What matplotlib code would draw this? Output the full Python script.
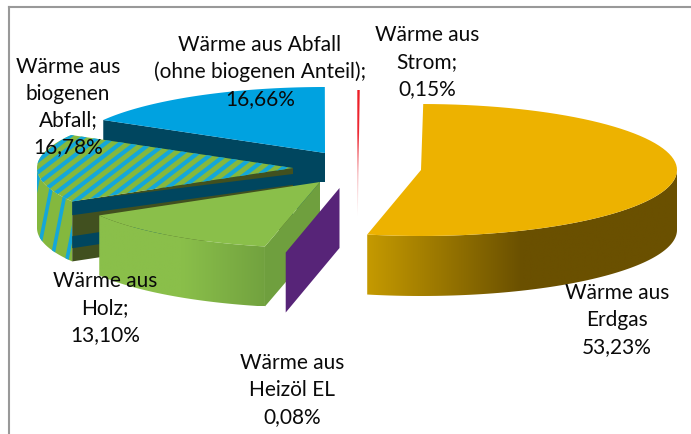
import numpy as np
import matplotlib
matplotlib.use("Agg")
import matplotlib.pyplot as plt
from matplotlib.patches import Polygon
from matplotlib.colors import LinearSegmentedColormap

names = ["Wärme aus\nErdgas", "Wärme aus\nHeizöl EL", "Wärme aus\nHolz;",
         "Wärme aus\nbiogenen\nAbfall;", "Wärme aus Abfall\n(ohne biogenen Anteil);",
         "Wärme aus\nStrom;"]
shares = [53.23, 0.08, 13.10, 16.78, 16.66, 0.15]
values = ["53,23%", "0,08%", "13,10%", "16,78%", "16,66%", "0,15%"]

# where each exploded slice sits, in pixels of the picture
centres = [(421, 171), (339.5, 189), (320, 183), (293, 169), (325, 154), (357.5, 157)]
label_xy = [(617, 320), (292, 390), (105, 308), (68, 107), (260, 72), (427, 62)]

RX, RY, DEPTH = 256, 66, 60
START = 0.5

plt.rcParams['font.family'] = ['Lato', 'DejaVu Sans']

fig = plt.figure(figsize=(6.91, 4.35), dpi=100)
ax = fig.add_axes([0, 0, 1, 1])


def rim(c, a0, a1, n=80):
    t = np.radians(np.linspace(a0, a1, n))
    return np.column_stack([c[0] + RX*np.sin(t), c[1] - RY*np.cos(t)])


def down(pts, d=DEPTH):
    return pts + np.array([0, d])


def top_poly(c, a0, a1):
    return np.vstack([[c], rim(c, a0, a1)])


def side_poly(c, a0, a1):
    r = rim(c, a0, a1)
    return np.vstack([r, down(r)[::-1]])


def cut_poly(c, a, f0=0.0, f1=1.0, f0_in=None, f1_in=None):
    # f0/f1 at the outer end, f0_in/f1_in at the centre end
    e = rim(c, a, a, 1)[0]
    f0_in = f0 if f0_in is None else f0_in
    f1_in = f1 if f1_in is None else f1_in
    return np.array([[c[0], c[1]+f0_in*DEPTH], [e[0], e[1]+f0*DEPTH],
                     [e[0], e[1]+f1*DEPTH], [c[0], c[1]+f1_in*DEPTH]])


def shape(pts, color, z):
    p = Polygon(pts, closed=True, fc=color, ec='none', zorder=z)
    ax.add_patch(p)
    return p


def gradient(pts, stops, z, vertical=False):
    # gradient fill: an image clipped to the polygon
    p = Polygon(pts, closed=True, fc='none', ec='none', zorder=z)
    ax.add_patch(p)
    x0, y0 = pts.min(axis=0)
    x1, y1 = pts.max(axis=0)
    g = np.linspace(0, 1, 256).reshape(-1, 1) if vertical else np.linspace(0, 1, 256).reshape(1, -1)
    cmap = LinearSegmentedColormap.from_list('g', stops)
    im = ax.imshow(g, cmap=cmap, extent=[x0, x1, y1, y0], aspect='auto', zorder=z,
                   interpolation='bilinear', origin='upper')
    im.set_clip_path(p)


def stripes(patch, x0, x1, y0, y1, slant, step, z, lw):
    for x in np.arange(x0, x1, step):
        ln, = ax.plot([x, x + slant*(y1-y0)], [y1, y0], color=BLUE_S, lw=lw,
                      zorder=z, solid_capstyle='butt')
        ln.set_clip_path(patch)


BLUE_S = '#14a7d8'
GREEN_S = '#84b83e'
DARK = '#00465f'
OLIVE = '#41501f'

edges = START + np.concatenate([[0], np.cumsum(shares)])*3.6
a = list(zip(edges[:-1], edges[1:]))

# Abfall (back slice), its cut face stops at the Holz slice on the right
c = centres[4]
h = centres[2]
e = rim(c, a[4][0], a[4][0], 1)[0]
shape(np.array([c, e, [e[0], e[1]+DEPTH], [h[0], c[1]+DEPTH], [h[0], h[1]], [c[0], h[1]]]), DARK, 1)
shape(top_poly(c, *a[4]), '#00a2e0', 2)

# biogener Abfall
c = centres[3]
side = shape(side_poly(c, a[3][0], 270), GREEN_S, 3)
stripes(side, -40, 120, 130, 270, 0.2, 15, 3.1, 2.6)
shape(cut_poly(c, a[3][0]), OLIVE, 3.2)
shape(cut_poly(c, a[3][0], 0.0, 0.23, 0.1, 0.28), DARK, 3.3)
shape(cut_poly(c, a[3][0], 0.58, 0.78), DARK, 3.3)
tp = shape(top_poly(c, *a[3]), GREEN_S, 4)
stripes(tp, -100, 400, 120, 210, 1.3, 15, 4.1, 3.0)

# Holz
c = centres[2]
shape(cut_poly(c, a[2][0]), '#6f9f3e', 5)
gradient(side_poly(c, a[2][0], a[2][1]), ['#8abf4a', '#8abf4a', '#72a23f'], 5.1)
shape(top_poly(c, *a[2]), '#8abf4a', 6)

# Heizöl EL
shape(cut_poly(centres[1], a[1][0]), '#572478', 7)

# Strom
c = centres[5]
r = rim(c, *a[5], 5)
gradient(np.vstack([r, [[c[0]+0.3, c[1]+DEPTH], [c[0]-0.3, c[1]+DEPTH]]]),
         ['#ed1c24', '#ee2a35', '#f6b9bc', '#ffffff'], 8, vertical=True)

# Erdgas
c = centres[0]
gradient(side_poly(c, 90, a[0][1]), ['#c59a00', '#6a5000', '#6a5000'], 9)
shape(top_poly(c, *a[0]), '#edb200', 10)

# labels
for n, v, (x, y) in zip(names, values, label_xy):
    ax.text(x, y, n + "\n" + v, ha='center', va='center', fontsize=15, color='#0a0a0a',
            linespacing=1.43, zorder=20)

# chart frame
ax.plot([9, 9], [435, 8], color='#999999', lw=1.5, zorder=0)
ax.plot([9, 691], [8, 8], color='#999999', lw=1.5, zorder=0)

ax.set_xlim(0, 691)
ax.set_ylim(435, 0)
ax.axis('off')
fig.savefig("out.png", dpi=100)
